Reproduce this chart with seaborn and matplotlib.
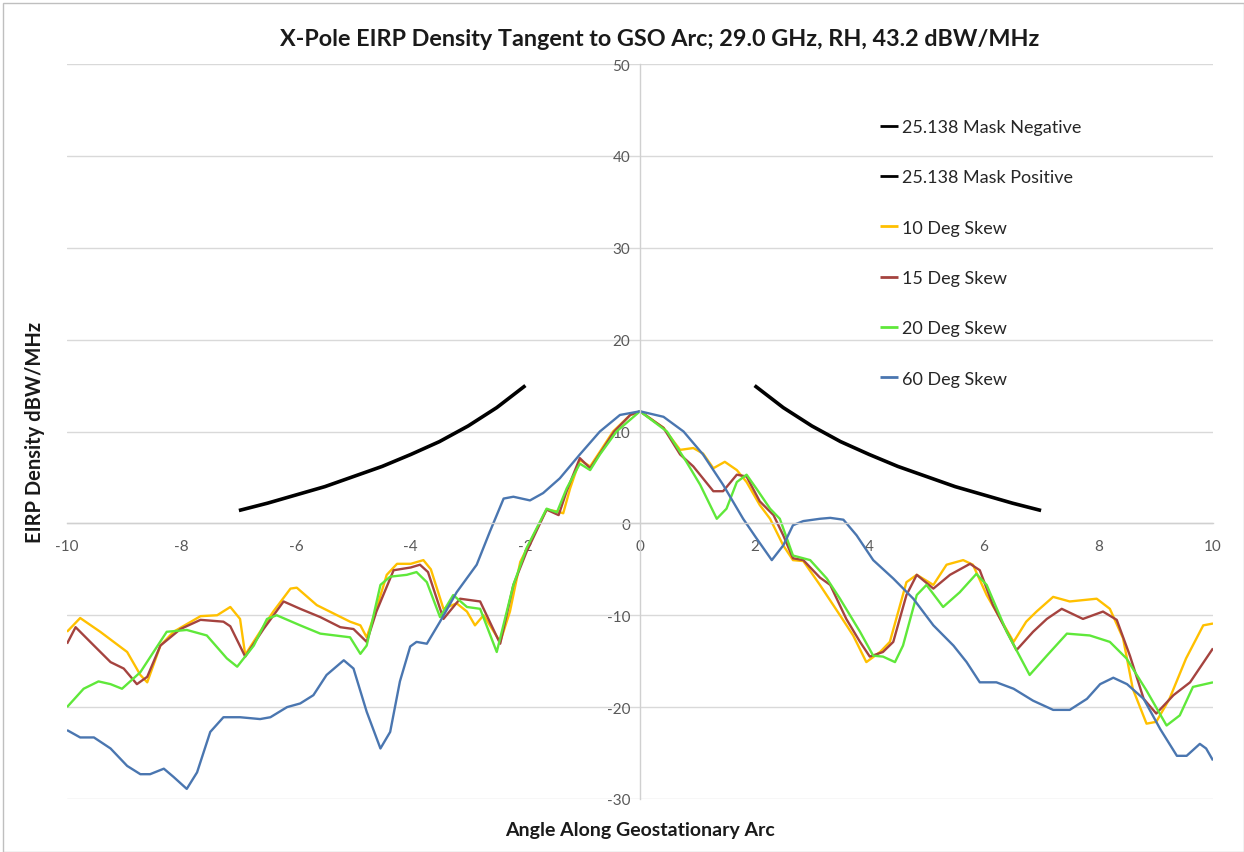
import matplotlib
matplotlib.use("Agg")
import matplotlib.pyplot as plt
import seaborn as sns
from matplotlib.patches import Rectangle

# ---------------- data ----------------
mask_neg_x = [-7.0, -6.5, -6.0, -5.5, -5.0, -4.5, -4.0, -3.5, -3.0, -2.5, -2.0]
mask_neg_y = [1.4, 2.2, 3.1, 4.0, 5.1, 6.2, 7.5, 8.9, 10.6, 12.6, 15.0]
mask_pos_x = [2.0, 2.5, 3.0, 3.5, 4.0, 4.5, 5.0, 5.5, 6.0, 6.5, 7.0]
mask_pos_y = [15.0, 12.6, 10.6, 8.9, 7.5, 6.2, 5.1, 4.0, 3.1, 2.2, 1.4]

skew10_x = [-10, -9.77, -9.42, -8.95, -8.72, -8.6, -8.37, -8.14, -7.67, -7.38, -7.15, -6.98,
            -6.89, -6.6, -6.4, -6.1, -5.99, -5.64, -5.35, -5.06, -4.88, -4.77, -4.6, -4.42,
            -4.24, -4.0, -3.78, -3.65, -3.43, -3.2, -3.02, -2.88, -2.73, -2.44, -2.27, -2.09,
            -1.86, -1.63, -1.45, -1.34, -1.22, -1.05, -0.87, -0.7, -0.47, -0.17, 0, 0.41, 0.7,
            0.93, 1.1, 1.28, 1.48, 1.69, 1.86, 2.09, 2.27, 2.5, 2.67, 2.85, 3.14, 3.49, 3.72,
            3.95, 4.19, 4.36, 4.65, 4.83, 5.12, 5.35, 5.64, 5.81, 6.05, 6.52, 6.74, 6.92, 7.21,
            7.5, 7.97, 8.2, 8.43, 8.6, 8.84, 9.01, 9.24, 9.53, 9.83, 10]
skew10_y = [-11.8, -10.3, -11.8, -14.0, -16.5, -17.3, -13.3, -11.8, -10.1, -10.0, -9.1, -10.4,
            -14.3, -11.5, -9.6, -7.1, -7.0, -8.9, -9.8, -10.7, -11.1, -12.4, -9.3, -5.6,
            -4.4, -4.4, -4.0, -5.0, -9.3, -8.7, -9.6, -11.1, -10.0, -12.9, -9.6, -4.2,
            -1.3, 1.5, 1.3, 1.1, 3.8, 6.9, 6.2, 7.8, 10.0, 11.8, 12.2, 10.4, 8.0,
            8.2, 7.6, 6.0, 6.7, 5.8, 4.5, 2.0, 0.5, -2.4, -4.0, -4.1, -6.7, -10.0, -12.2,
            -15.1, -14.0, -12.9, -6.4, -5.6, -6.7, -4.5, -4.0, -4.5, -7.8, -12.9, -10.7, -9.6, -8.0,
            -8.5, -8.2, -9.3, -12.5, -18.0, -21.8, -21.6, -19.1, -14.7, -11.1, -10.9]

skew15_x = [-10, -9.85, -9.53, -9.24, -9.01, -8.78, -8.6, -8.37, -8.02, -7.67, -7.27, -7.15,
            -6.89, -6.57, -6.22, -5.93, -5.58, -5.23, -5.0, -4.77, -4.6, -4.3, -4.0, -3.84,
            -3.7, -3.43, -3.14, -2.79, -2.44, -2.21, -1.98, -1.63, -1.42, -1.28, -1.05, -0.87,
            -0.7, -0.45, -0.17, 0, 0.41, 0.7, 0.93, 1.28, 1.45, 1.69, 1.86, 2.09, 2.33, 2.5,
            2.67, 2.85, 3.14, 3.32, 3.6, 3.84, 4.01, 4.24, 4.42, 4.65, 4.83, 5.12, 5.41, 5.76,
            5.93, 6.16, 6.57, 6.86, 7.1, 7.36, 7.73, 8.08, 8.32, 8.55, 8.79, 9.01, 9.31, 9.6, 10]
skew15_y = [-13.1, -11.3, -13.3, -15.1, -15.8, -17.5, -16.7, -13.3, -11.5, -10.5, -10.7, -11.2,
            -14.5, -11.5, -8.5, -9.3, -10.2, -11.3, -11.5, -12.9, -9.6, -5.1, -4.8, -4.5,
            -5.3, -10.4, -8.2, -8.5, -13.1, -6.7, -3.1, 1.5, 0.9, 3.5, 7.1, 6.0,
            7.6, 10.0, 11.8, 12.2, 10.4, 7.5, 6.2, 3.5, 3.5, 5.3, 5.1, 2.4, 0.9, -1.3,
            -3.8, -4.0, -5.9, -6.7, -10.4, -12.9, -14.5, -14.0, -12.9, -7.8, -5.6, -7.1, -5.6, -4.4,
            -5.1, -8.9, -13.8, -11.8, -10.4, -9.3, -10.4, -9.6, -10.5, -14.4, -19.1, -20.7, -18.7, -17.3, -13.6]

skew20_x = [-10, -9.71, -9.45, -9.24, -9.04, -8.72, -8.26, -7.91, -7.56, -7.21, -7.03, -6.74,
            -6.51, -6.34, -5.93, -5.58, -5.06, -4.88, -4.77, -4.53, -4.36, -4.07, -3.9, -3.72,
            -3.49, -3.26, -3.02, -2.79, -2.5, -2.21, -1.98, -1.63, -1.45, -1.28, -1.05, -0.87,
            -0.7, -0.41, 0, 0.47, 0.81, 1.05, 1.34, 1.51, 1.69, 1.86, 2.03, 2.27, 2.44, 2.67,
            2.97, 3.26, 3.49, 3.84, 4.07, 4.24, 4.45, 4.59, 4.83, 5.0, 5.29, 5.58, 5.87, 6.05,
            6.4, 6.8, 7.1, 7.45, 7.85, 8.2, 8.49, 8.84, 9.19, 9.42, 9.65, 10]
skew20_y = [-20.0, -18.0, -17.2, -17.5, -18.0, -16.2, -11.8, -11.6, -12.2, -14.7, -15.6, -13.3,
            -10.4, -10.0, -11.1, -12.0, -12.4, -14.2, -13.3, -6.7, -5.8, -5.6, -5.3, -6.4,
            -10.2, -7.8, -9.1, -9.3, -14.0, -6.7, -2.7, 1.6, 1.2, 3.8, 6.5, 5.8,
            7.5, 10.0, 12.2, 10.0, 6.7, 4.2, 0.5, 1.6, 4.5, 5.3, 3.8, 1.6, 0.5, -3.5,
            -4.0, -6.0, -8.2, -11.8, -14.4, -14.5, -15.1, -13.3, -7.8, -6.7, -9.1, -7.5, -5.5, -6.7,
            -11.8, -16.5, -14.4, -12.0, -12.2, -12.9, -14.7, -18.2, -22.0, -20.9, -17.8, -17.3]

skew60_x = [-10, -9.77, -9.53, -9.24, -8.95, -8.72, -8.55, -8.31, -8.14, -7.91, -7.73, -7.5,
            -7.27, -6.98, -6.63, -6.45, -6.16, -5.93, -5.7, -5.47, -5.17, -5.0, -4.77, -4.53,
            -4.36, -4.19, -4.01, -3.9, -3.72, -3.49, -3.2, -2.85, -2.62, -2.38, -2.21, -1.92,
            -1.69, -1.4, -1.05, -0.7, -0.35, 0, 0.41, 0.76, 1.1, 1.45, 1.8, 2.03, 2.3, 2.5,
            2.67, 2.85, 3.14, 3.32, 3.55, 3.78, 4.07, 4.42, 4.77, 5.12, 5.47, 5.7, 5.93, 6.22,
            6.52, 6.86, 7.21, 7.5, 7.8, 8.03, 8.26, 8.5, 8.79, 9.08, 9.37, 9.54, 9.77, 9.88, 10]
skew60_y = [-22.5, -23.3, -23.3, -24.5, -26.4, -27.3, -27.3, -26.7, -27.6, -28.9, -27.1, -22.7,
            -21.1, -21.1, -21.3, -21.1, -20.0, -19.6, -18.7, -16.5, -14.9, -15.8, -20.5, -24.5,
            -22.7, -17.2, -13.4, -12.9, -13.1, -10.7, -7.5, -4.5, -0.9, 2.7, 2.9, 2.5,
            3.3, 4.9, 7.5, 10.0, 11.8, 12.2, 11.6, 10.0, 7.5, 4.2, 0.5, -1.6, -4.0, -2.4,
            -0.2, 0.25, 0.5, 0.6, 0.4, -1.3, -4.0, -6.0, -8.2, -11.1, -13.3, -15.1, -17.3, -17.3,
            -18.0, -19.3, -20.3, -20.3, -19.1, -17.5, -16.8, -17.5, -19.1, -22.4, -25.3, -25.3, -24.0, -24.5, -25.8]

x_ticks = [-10, -8, -6, -4, -2, 0, 2, 4, 6, 8, 10]
y_ticks = [-30, -20, -10, 0, 10, 20, 30, 40, 50]

title = "X-Pole EIRP Density Tangent to GSO Arc; 29.0 GHz, RH, 43.2 dBW/MHz"
x_label = "Angle Along Geostationary Arc"
y_label = "EIRP Density dBW/MHz"

# ---------------- styling ----------------
sns.set_theme(style="white")
plt.rcParams['font.family'] = ['Lato', 'DejaVu Sans']

fig = plt.figure(figsize=(12.44, 8.53), dpi=100)
ax = fig.add_axes([67 / 1244, 1 - 800 / 853, (1213 - 67) / 1244, (800 - 65) / 853])

series = [
    (mask_neg_x, mask_neg_y, "25.138 Mask Negative", "#000000", 2.6),
    (mask_pos_x, mask_pos_y, "25.138 Mask Positive", "#000000", 2.6),
    (skew10_x, skew10_y, "10 Deg Skew", "#FFC000", 1.7),
    (skew15_x, skew15_y, "15 Deg Skew", "#A5433F", 1.7),
    (skew20_x, skew20_y, "20 Deg Skew", "#5FE83A", 1.7),
    (skew60_x, skew60_y, "60 Deg Skew", "#4A76B0", 1.7),
]
for xs, ys, lab, col, lw in series:
    sns.lineplot(x=xs, y=ys, ax=ax, color=col, linewidth=lw, label=lab,
                 estimator=None, sort=False)
for line in ax.get_lines():
    line.set_solid_joinstyle('round')
    line.set_solid_capstyle('butt')

ax.set_xlim(-10, 10)
ax.set_ylim(-30, 50)
ax.set_xticks(x_ticks)
ax.set_yticks(y_ticks)
ax.set_xticklabels([str(t) for t in x_ticks])
ax.set_yticklabels([str(t) for t in y_ticks])

for s in ['top', 'right']:
    ax.spines[s].set_visible(False)
ax.spines['left'].set_position(('data', 0))
ax.spines['bottom'].set_position(('data', 0))
ax.spines['left'].set_color('#d0d0d0')
ax.spines['bottom'].set_color('#d0d0d0')
ax.spines['left'].set_linewidth(1.0)
ax.spines['bottom'].set_linewidth(1.0)

ax.yaxis.grid(True, color='#d9d9d9', linewidth=1.0)
ax.xaxis.grid(False)
ax.set_axisbelow(True)

ax.tick_params(axis='both', which='major', direction='out', length=4, width=1,
               color='#d0d0d0', labelsize=11, labelcolor='#595959')
ax.tick_params(axis='x', pad=7)
ax.tick_params(axis='y', pad=3)

ax.set_xlabel("")
ax.set_ylabel("")
fig.text(640 / 1244, 1 - 831 / 853, x_label, ha='center', va='center',
         fontsize=14, fontweight='bold', color='#1a1a1a')
fig.text(35 / 1244, 1 - 432 / 853, y_label, ha='center', va='center', rotation=90,
         fontsize=14.5, fontweight='bold', color='#1a1a1a')
fig.text(660 / 1244, 1 - 40 / 853, title, ha='center', va='center',
         fontsize=16.8, fontweight='bold', color='#1a1a1a')

leg = ax.legend(loc='upper left', bbox_to_anchor=(880 / 1244, 1 - 120 / 853),
                bbox_transform=fig.transFigure, frameon=False, fontsize=13,
                handlelength=1.0, handletextpad=0.2, labelspacing=1.9,
                borderaxespad=0, borderpad=0)
for t in leg.get_texts():
    t.set_color('#262626')
for h in leg.get_lines():
    h.set_linewidth(2.0)

fig.patches.append(Rectangle((3 / 1244, 0.0), 1 - 3 / 1244, 1 - 4 / 853, transform=fig.transFigure,
                             fill=False, edgecolor='#bfbfbf', linewidth=1.0))

fig.savefig("out.png", dpi=100)
